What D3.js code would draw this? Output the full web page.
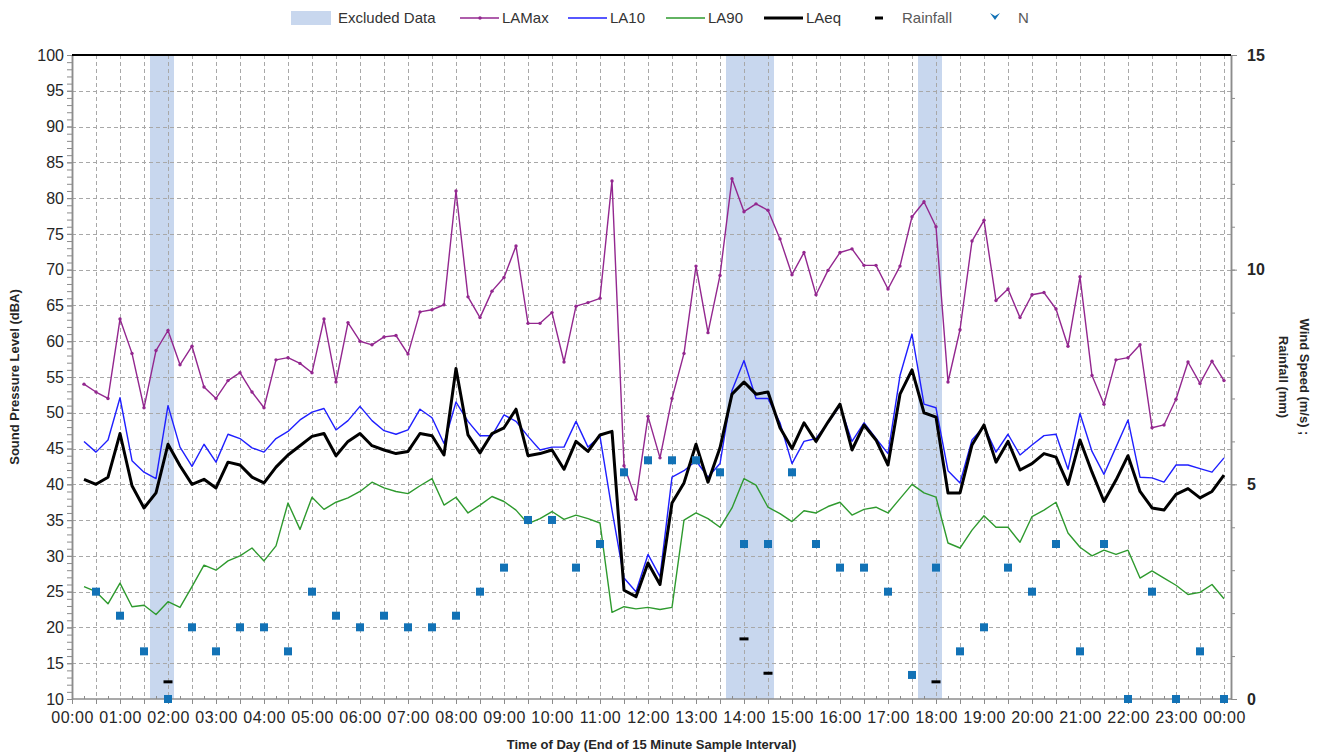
<!DOCTYPE html>
<html>
<head>
<meta charset="utf-8">
<script src="https://cdn.jsdelivr.net/npm/d3@7"></script>
<style>
  body { margin: 0; background: #fff; }
  svg { font-family: "Liberation Sans", Arial, sans-serif; }
</style>
</head>
<body>
<div id="chart"></div>
<script>
// 15 minute samples, 00:15 .. 24:00 (four values per row = one hour)
const laMax = [
  54.0, 52.9, 52.0, 63.1,  58.3, 50.7, 58.7, 61.5,  56.7, 59.3, 53.6, 52.0,  54.5, 55.6, 52.9, 50.7,
  57.4, 57.7, 56.9, 55.6,  63.1, 54.3, 62.6, 60.0,  59.5, 60.6, 60.8, 58.2,  64.1, 64.4, 65.1, 81.0,
  66.2, 63.3, 67.0, 68.9,  73.3, 62.5, 62.5, 64.0,  57.1, 64.9, 65.4, 66.0,  82.4, 42.6, 37.9, 49.5,
  43.7, 52.0, 58.3, 70.5,  61.2, 69.2, 82.7, 78.1,  79.2, 78.3, 74.3, 69.3,  72.4, 66.5, 69.9, 72.4,
  72.9, 70.6, 70.6, 67.3,  70.5, 77.4, 79.5, 76.0,  54.3, 61.6, 74.0, 76.9,  65.7, 67.3, 63.3, 66.5,
  66.8, 64.5, 59.3, 69.0,  55.2, 51.2, 57.4, 57.7,  59.5, 47.9, 48.3, 51.9,  57.1, 54.1, 57.2, 54.5
];
const la10 = [
  46.0, 44.5, 46.2, 52.1,  43.3, 41.7, 40.8, 51.0,  45.2, 42.5, 45.6, 43.1,  47.0, 46.4, 45.1, 44.5,
  46.4, 47.4, 49.0, 50.1,  50.6, 47.6, 48.9, 50.9,  48.9, 47.5, 47.0, 47.6,  50.5, 49.3, 45.7, 51.5,
  48.8, 46.8, 46.8, 49.7,  48.8, 46.7, 44.8, 45.2,  45.2, 48.8, 45.2, 46.7,  36.4, 26.9, 25.0, 30.2,
  27.1, 41.0, 41.9, 43.3,  41.0, 42.9, 53.1, 57.3,  52.0, 52.0, 48.6, 42.9,  46.0, 46.4, 48.6, 51.0,
  46.0, 48.6, 46.4, 44.3,  55.2, 61.0, 51.2, 50.7,  41.9, 40.2, 46.2, 48.1,  44.5, 47.0, 44.1, 45.5,
  46.8, 47.0, 42.1, 49.9,  44.6, 41.4, 45.2, 49.0,  41.0, 40.9, 40.3, 42.7,  42.7, 42.2, 41.7, 43.7
];
const la90 = [
  25.7, 25.0, 23.3, 26.2,  22.9, 23.1, 21.8, 23.6,  22.8, 25.7, 28.7, 28.0,  29.3, 30.0, 31.1, 29.3,
  31.4, 37.4, 33.7, 38.2,  36.5, 37.5, 38.1, 39.0,  40.3, 39.5, 39.0, 38.7,  39.8, 40.8, 37.1, 38.2,
  36.0, 37.1, 38.3, 37.6,  36.4, 34.5, 35.2, 36.2,  35.1, 35.7, 35.2, 34.6,  22.1, 22.9, 22.6, 22.8,
  22.5, 22.8, 35.0, 36.0,  35.2, 34.0, 36.7, 40.8,  39.9, 36.8, 35.9, 34.8,  36.3, 36.0, 36.9, 37.5,
  35.7, 36.5, 36.8, 36.0,  38.0, 40.0, 38.8, 38.2,  31.8, 31.1, 33.6, 35.6,  34.0, 34.0, 31.9, 35.5,
  36.4, 37.5, 33.2, 31.2,  30.0, 30.8, 30.2, 30.8,  26.9, 27.9, 26.9, 25.9,  24.6, 24.9, 26.0, 24.0
];
const laEq = [
  40.7, 40.0, 41.0, 47.1,  39.8, 36.7, 38.8, 45.6,  42.6, 40.0, 40.7, 39.5,  43.1, 42.7, 41.0, 40.2,
  42.4, 44.1, 45.4, 46.7,  47.1, 44.0, 46.0, 47.1,  45.4, 44.8, 44.3, 44.6,  47.1, 46.8, 44.1, 56.2,
  46.9, 44.4, 47.1, 47.9,  50.5, 44.0, 44.3, 44.8,  42.1, 46.0, 44.6, 46.9,  47.4, 25.2, 24.3, 29.0,
  26.0, 37.4, 40.2, 45.6,  40.3, 45.1, 52.6, 54.3,  52.6, 52.9, 47.9, 45.0,  48.6, 46.0, 48.7, 51.2,
  44.8, 48.3, 46.2, 42.7,  52.6, 56.0, 50.0, 49.4,  38.8, 38.8, 45.5, 48.3,  43.1, 46.0, 42.0, 42.9,
  44.3, 43.8, 40.0, 46.2,  41.7, 37.6, 40.6, 44.0,  39.0, 36.7, 36.4, 38.6,  39.4, 38.1, 39.0, 41.3
];

// wind speed (m/s), 30 minute samples 00:30 .. 24:00
const windSpeed = [
  2.50, 1.94, 1.11, 0.00, 1.67, 1.11, 1.67, 1.67, 1.11, 2.50, 1.94, 1.67,
  1.94, 1.67, 1.67, 1.94, 2.50, 3.06, 4.17, 4.17, 3.06, 3.61, 5.28, 5.56,
  5.56, 5.56, 5.28, 3.61, 3.61, 5.28, 3.61, 3.06, 3.06, 2.50, 0.56, 3.06,
  1.11, 1.67, 3.06, 2.50, 3.61, 1.11, 3.61, 0.00, 2.50, 0.00, 1.11, 0.00
];

const rainTimes = ['02:00', '14:00', '14:30', '18:00'];
const rainMm = [0.4, 1.4, 0.6, 0.4];

// first and last excluded sample of each block
const excludedStart = ['01:45', '13:45', '17:45'];
const excludedEnd = ['02:00', '14:30', '18:00'];

const timeTickLabels = [
  '00:00', '01:00', '02:00', '03:00', '04:00', '05:00', '06:00', '07:00', '08:00',
  '09:00', '10:00', '11:00', '12:00', '13:00', '14:00', '15:00', '16:00', '17:00',
  '18:00', '19:00', '20:00', '21:00', '22:00', '23:00', '00:00'
];
const leftTicks = [10, 15, 20, 25, 30, 35, 40, 45, 50, 55, 60, 65, 70, 75, 80, 85, 90, 95, 100];
const rightTicks = [0, 5, 10, 15];

const toMin = (s) => { const p = s.split(':').map(Number); return p[0] * 60 + p[1]; };
const sampleTimes = laMax.map((d, i) => (i + 1) * 15);
const windTimes = windSpeed.map((d, i) => (i + 1) * 30);

const width = 1321;
const height = 756;
const plot = { left: 72, right: 1231, top: 55, bottom: 699 };

const svg = d3.select('#chart')
  .append('svg')
  .attr('width', width)
  .attr('height', height);

const x = d3.scaleLinear().domain([0, 1440]).range([plot.left, 1224]);
const yL = d3.scaleLinear().domain([10, 100]).range([plot.bottom, plot.top]);
const yR = d3.scaleLinear().domain([0, 15]).range([plot.bottom, plot.top]);

// excluded data bands (half a sample either side)
svg.append('g')
  .selectAll('rect')
  .data(excludedStart.map((s, i) => [toMin(s) - 7.5, toMin(excludedEnd[i]) + 7.5]))
  .enter()
  .append('rect')
  .attr('x', (d) => x(d[0]))
  .attr('y', plot.top)
  .attr('width', (d) => x(d[1]) - x(d[0]))
  .attr('height', plot.bottom - plot.top)
  .attr('fill', '#c8d7ee');

// grid
const grid = svg.append('g').attr('stroke', '#a8a8a8').attr('stroke-dasharray', '4,3').attr('stroke-width', 1);
grid.selectAll('.hg')
  .data(leftTicks.filter((d) => d > 10 && d < 100))
  .enter()
  .append('line')
  .attr('x1', plot.left)
  .attr('x2', plot.right)
  .attr('y1', (d) => Math.round(yL(d)) + 0.5)
  .attr('y2', (d) => Math.round(yL(d)) + 0.5);
grid.selectAll('.vg')
  .data(d3.range(30, 1441, 30))
  .enter()
  .append('line')
  .attr('x1', (d) => Math.round(x(d)) + 0.5)
  .attr('x2', (d) => Math.round(x(d)) + 0.5)
  .attr('y1', plot.top)
  .attr('y2', plot.bottom);

// axes
const styleAxis = (g) => {
  g.select('.domain').attr('stroke', '#8c8c8c').attr('stroke-width', 1.5);
  g.selectAll('.tick line').attr('stroke', '#8c8c8c');
};

svg.append('g')
  .attr('transform', `translate(${plot.left},0)`)
  .call(d3.axisLeft(yL).tickValues(d3.range(10, 101, 1)).tickSize(5).tickFormat('').tickSizeOuter(0))
  .call(styleAxis);

svg.append('g')
  .attr('transform', `translate(${plot.left},0)`)
  .call(d3.axisLeft(yL).tickValues(leftTicks).tickSize(5).tickPadding(3).tickSizeOuter(0))
  .call(styleAxis)
  .call((g) => g.selectAll('text').attr('font-size', 16).attr('fill', '#262626').attr('font-family', '"Liberation Sans", Arial, sans-serif'));

svg.append('g')
  .attr('transform', `translate(0,${plot.bottom})`)
  .call(d3.axisBottom(x).tickValues(d3.range(15, 1441, 30)).tickSize(-3).tickFormat('').tickSizeOuter(0))
  .call(styleAxis)
  .call((g) => g.select('.domain').remove());

svg.append('g')
  .attr('transform', `translate(0,${plot.bottom})`)
  .call(d3.axisBottom(x).tickValues(d3.range(0, 1441, 30)).tickSize(5).tickPadding(8)
    .tickFormat((d) => (d % 60 === 0 ? timeTickLabels[d / 60] : '')).tickSizeOuter(0))
  .call(styleAxis)
  .call((g) => g.select('.domain').attr('d', `M${plot.left},0H${plot.right}`))
  .call((g) => g.selectAll('text').attr('font-size', 16).attr('letter-spacing', 0.5).attr('fill', '#262626').attr('font-family', '"Liberation Sans", Arial, sans-serif'));

svg.append('g')
  .attr('transform', `translate(${plot.right},0)`)
  .call(d3.axisRight(yR).tickValues(d3.range(0, 16, 1)).tickSize(4).tickFormat('').tickSizeOuter(0))
  .call(styleAxis);

svg.append('g')
  .attr('transform', `translate(${plot.right},0)`)
  .call(d3.axisRight(yR).tickValues(rightTicks).tickSize(6).tickPadding(10).tickSizeOuter(0))
  .call(styleAxis)
  .call((g) => g.selectAll('text').attr('font-size', 16).attr('font-weight', 'bold').attr('fill', '#262626').attr('font-family', '"Liberation Sans", Arial, sans-serif'));

// top border
svg.append('line')
  .attr('x1', plot.left)
  .attr('x2', plot.right)
  .attr('y1', plot.top)
  .attr('y2', plot.top)
  .attr('stroke', '#000')
  .attr('stroke-width', 2);

// sound level lines
const series = [
  { name: 'LAMax', values: laMax, color: '#93278f', width: 1.4 },
  { name: 'LA10', values: la10, color: '#1f1fff', width: 1.4 },
  { name: 'LA90', values: la90, color: '#2e9a2e', width: 1.4 },
  { name: 'LAeq', values: laEq, color: '#000000', width: 3 }
];

const line = d3.line()
  .x((d, i) => x(sampleTimes[i]))
  .y((d) => yL(d));

series.forEach((s) => {
  svg.append('path')
    .datum(s.values)
    .attr('fill', 'none')
    .attr('stroke', s.color)
    .attr('stroke-width', s.width)
    .attr('stroke-linejoin', 'round')
    .attr('d', line);
});

svg.append('g')
  .selectAll('circle')
  .data(laMax)
  .enter()
  .append('circle')
  .attr('cx', (d, i) => x(sampleTimes[i]))
  .attr('cy', (d) => yL(d))
  .attr('r', 1.7)
  .attr('fill', '#93278f');

// wind speed
svg.append('g')
  .selectAll('rect')
  .data(windSpeed)
  .enter()
  .append('rect')
  .attr('x', (d, i) => x(windTimes[i]) - 4)
  .attr('y', (d) => yR(d) - 4)
  .attr('width', 8)
  .attr('height', 8)
  .attr('fill', '#1272b6');

// rainfall
svg.append('g')
  .selectAll('rect')
  .data(rainMm)
  .enter()
  .append('rect')
  .attr('x', (d, i) => x(toMin(rainTimes[i])) - 4.5)
  .attr('y', (d) => yR(d) - 1.5)
  .attr('width', 9)
  .attr('height', 3)
  .attr('fill', '#000');

// axis titles
svg.append('text')
  .attr('transform', `translate(19,${(plot.top + plot.bottom) / 2}) rotate(-90)`)
  .attr('text-anchor', 'middle')
  .attr('font-size', 13)
  .attr('font-weight', 'bold')
  .attr('fill', '#262626')
  .text('Sound Pressure Level (dBA)');

svg.append('text')
  .attr('x', (plot.left + plot.right) / 2)
  .attr('y', 749)
  .attr('text-anchor', 'middle')
  .attr('font-size', 13)
  .attr('font-weight', 'bold')
  .attr('fill', '#262626')
  .text('Time of Day (End of 15 Minute Sample Interval)');

const rTitle = svg.append('text')
  .attr('transform', `translate(1300,${(plot.top + plot.bottom) / 2}) rotate(90)`)
  .attr('text-anchor', 'middle')
  .attr('font-size', 13)
  .attr('font-weight', 'bold')
  .attr('fill', '#262626');
rTitle.append('tspan').attr('x', 0).attr('dy', 0).text('Wind Speed (m/s) ;');
rTitle.append('tspan').attr('x', 0).attr('dy', 21).text('Rainfall (mm)');

// legend
const legend = svg.append('g').attr('font-size', 15).attr('fill', '#333');
const ly = 18;
legend.append('rect').attr('x', 291).attr('y', 11).attr('width', 40).attr('height', 14).attr('fill', '#c8d7ee');
legend.append('text').attr('x', 338).attr('y', ly).attr('dy', '0.35em').text('Excluded Data');

const legendLines = [
  { s: series[0], x: 460 },
  { s: series[1], x: 568 },
  { s: series[2], x: 666 },
  { s: series[3], x: 764 }
];
legendLines.forEach((l) => {
  legend.append('line')
    .attr('x1', l.x).attr('x2', l.x + 39)
    .attr('y1', ly).attr('y2', ly)
    .attr('stroke', l.s.color)
    .attr('stroke-width', l.s.width);
  legend.append('text').attr('x', l.x + 42).attr('y', ly).attr('dy', '0.35em').text(l.s.name);
});
legend.append('circle').attr('cx', 480).attr('cy', ly).attr('r', 1.7).attr('fill', series[0].color);

legend.append('rect').attr('x', 875).attr('y', ly - 1.5).attr('width', 8).attr('height', 3).attr('fill', '#000');
legend.append('text').attr('x', 902).attr('y', ly).attr('dy', '0.35em').attr('fill', '#595959').text('Rainfall');
legend.append('path')
  .attr('d', `M990,${ly - 5}L995,${ly - 2}L1000,${ly - 5}L995,${ly + 2}Z`)
  .attr('fill', '#1272b6');
legend.append('text').attr('x', 1018).attr('y', ly).attr('dy', '0.35em').attr('fill', '#595959').text('N');
</script>
</body>
</html>
